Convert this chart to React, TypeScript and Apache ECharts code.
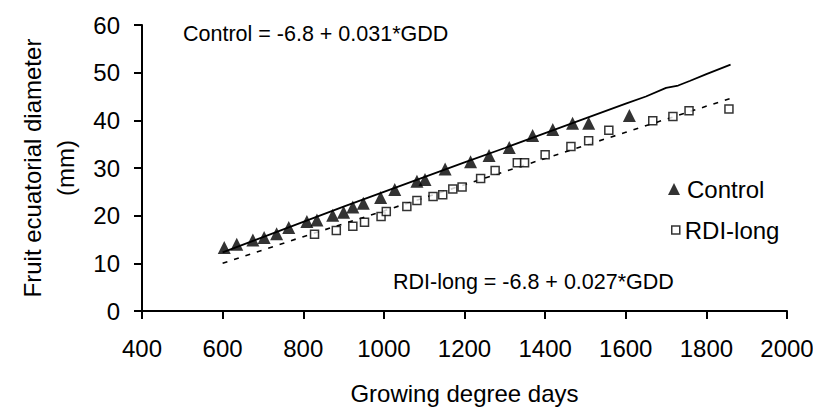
import React, { useEffect, useRef } from "react";
import * as echarts from "echarts";

// Observed fruit diameter (mm) vs growing degree days
const controlGDD = [604, 635, 675, 703, 734, 764, 809, 834, 873, 900, 923, 949, 992, 1027, 1082, 1102, 1152, 1215, 1261, 1311, 1369, 1419, 1468, 1508, 1609];
const controlDiam = [13.3, 14.0, 14.9, 15.4, 16.2, 17.5, 18.8, 19.1, 20.1, 20.7, 21.8, 22.6, 23.8, 25.5, 27.2, 27.6, 29.8, 31.3, 32.6, 34.3, 36.8, 38.1, 39.4, 39.4, 41.0];

const rdiGDD = [828, 882, 923, 952, 993, 1006, 1057, 1082, 1122, 1146, 1171, 1194, 1240, 1276, 1331, 1349, 1400, 1464, 1508, 1558, 1667, 1717, 1757, 1856];
const rdiDiam = [16.1, 16.9, 17.8, 18.6, 19.8, 20.9, 21.9, 23.2, 24.0, 24.4, 25.6, 26.0, 27.8, 29.5, 31.1, 31.1, 32.8, 34.5, 35.7, 37.9, 39.9, 40.8, 42.0, 42.4];

// Model curves
const controlModelGDD = [600, 700, 800, 900, 1000, 1100, 1200, 1300, 1400, 1500, 1600, 1650, 1700, 1730, 1760, 1800, 1860];
const controlModelDiam = [12.3, 15.5, 18.7, 21.9, 25.0, 28.1, 31.2, 34.2, 37.3, 40.4, 43.5, 45.0, 46.8, 47.3, 48.3, 49.7, 51.7];

const rdiModelGDD = [600, 800, 1000, 1200, 1400, 1600, 1860];
const rdiModelDiam = [10.0, 15.6, 21.0, 26.5, 32.0, 37.5, 44.6];

const xTicks = { min: 400, max: 2000, interval: 200 };
const yTicks = { min: 0, max: 60, interval: 10 };

const controlEq = "Control = -6.8 + 0.031*GDD";
const rdiEq = "RDI-long = -6.8 + 0.027*GDD";

const FONT = "Liberation Sans, Arial, sans-serif";
const FS = 24;
const FS_EQ = 21.5;

export default function App() {
  const ref = useRef<HTMLDivElement>(null);
  useEffect(() => {
    if (!ref.current) return;
    const chart = echarts.init(ref.current, undefined, { renderer: "svg" });
    const zip = (a: number[], b: number[]) => a.map((v, i) => [v, b[i]]);
    chart.setOption({
      animation: false,
      backgroundColor: "#fff",
      textStyle: { fontFamily: FONT, color: "#000" },
      grid: { left: 142, right: 26, top: 25, bottom: 97, containLabel: false, outerBoundsMode: "none" },
      legend: [
        {
          data: [{ name: "Control", icon: "triangle" }],
          left: 663,
          top: 172,
          itemWidth: 12,
          itemHeight: 12,
          textStyle: { fontSize: FS, fontFamily: FONT, color: "#000", padding: [0, 0, 0, 2] },
        },
        {
          data: [{ name: "RDI-long", icon: "rect", itemStyle: { color: "#fff", borderColor: "#000", borderWidth: 1.5 } }],
          left: 666,
          top: 213,
          itemWidth: 8,
          itemHeight: 8,
          textStyle: { fontSize: FS, fontFamily: FONT, color: "#000", padding: [0, 0, 0, 0] },
        },
      ],
      xAxis: {
        type: "value",
        min: xTicks.min,
        max: xTicks.max,
        interval: xTicks.interval,
        name: "Growing degree days",
        nameLocation: "middle",
        nameGap: 70,
        nameTextStyle: { fontSize: FS, fontFamily: FONT, color: "#000" },
        axisLine: { onZero: false, lineStyle: { color: "#000", width: 2 } },
        axisTick: { show: true, length: 8, inside: false, lineStyle: { color: "#000", width: 2 } },
        axisLabel: { fontSize: FS, fontFamily: FONT, color: "#000", margin: 25, formatter: (v: number) => String(v) },
        splitLine: { show: false },
      },
      yAxis: {
        type: "value",
        min: yTicks.min,
        max: yTicks.max,
        interval: yTicks.interval,
        name: "Fruit ecuatorial diameter\n(mm)",
        nameLocation: "middle",
        nameRotate: 90,
        nameGap: 43,
        nameTextStyle: { fontSize: FS, fontFamily: FONT, color: "#000", lineHeight: 33 },
        axisLine: { show: true, lineStyle: { color: "#000", width: 2 } },
        axisTick: { show: true, length: 8, inside: false, lineStyle: { color: "#000", width: 2 } },
        axisLabel: { fontSize: FS, fontFamily: FONT, color: "#000", margin: 22 },
        splitLine: { show: false },
      },
      graphic: [
        { type: "text", left: 183, top: 23, style: { text: controlEq, fontSize: FS_EQ, fontFamily: FONT, fill: "#000" } },
        { type: "text", left: 393, top: 271, style: { text: rdiEq, fontSize: FS_EQ, fontFamily: FONT, fill: "#000" } },
      ],
      series: [
        {
          name: "Control model",
          type: "line",
          data: zip(controlModelGDD, controlModelDiam),
          showSymbol: false,
          symbol: "none",
          lineStyle: { color: "#000", width: 1.8, type: "solid" },
          z: 2,
        },
        {
          name: "RDI-long model",
          type: "line",
          data: zip(rdiModelGDD, rdiModelDiam),
          showSymbol: false,
          symbol: "none",
          lineStyle: { color: "#000", width: 1.6, type: [5, 7] },
          z: 2,
        },
        {
          name: "Control",
          type: "scatter",
          data: zip(controlGDD, controlDiam),
          symbol: "triangle",
          symbolSize: 13,
          itemStyle: { color: "#000" },
          z: 3,
        },
        {
          name: "RDI-long",
          type: "scatter",
          data: zip(rdiGDD, rdiDiam),
          symbol: "rect",
          symbolSize: 8,
          itemStyle: { color: "#fff", borderColor: "#000", borderWidth: 1.5 },
          z: 3,
        },
      ],
    });
    return () => chart.dispose();
  }, []);
  return <div ref={ref} style={{ width: 813, height: 408, position: "absolute", left: 0, top: 0 }} />;
}
